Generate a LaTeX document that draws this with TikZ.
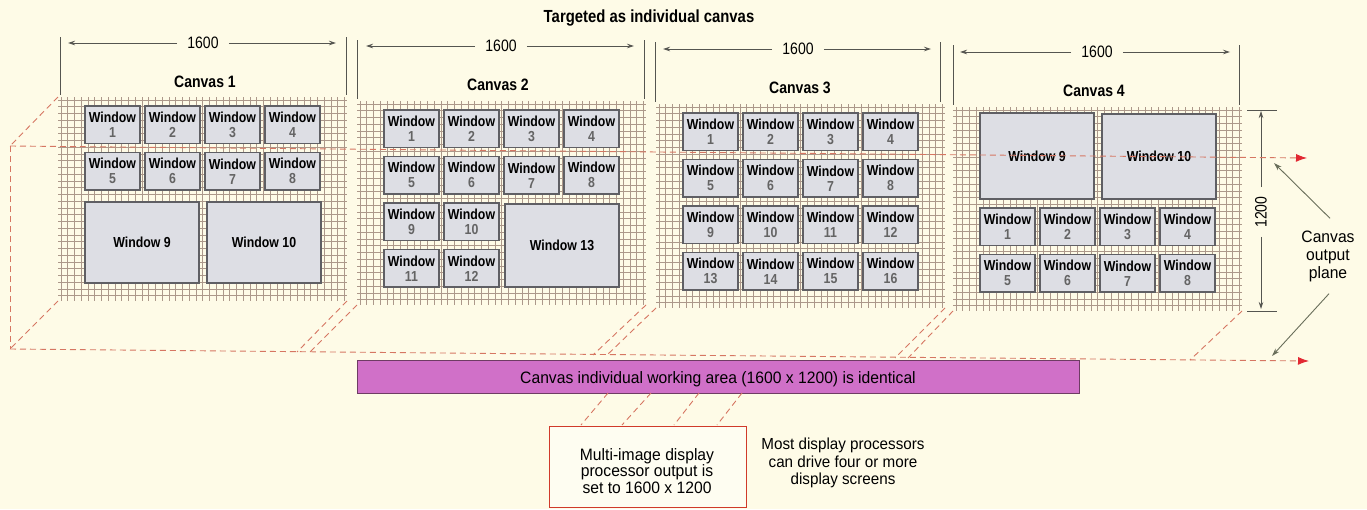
\documentclass[tikz,border=0pt]{standalone}
\usepackage{fontspec}
\setmainfont{Liberation Sans}[FakeStretch=0.95]
\newfontfamily\condf{Liberation Sans}[FakeStretch=0.85]
\usetikzlibrary{arrows.meta}
\definecolor{bg}{RGB}{254,251,231}
\definecolor{gridc}{RGB}{172,152,138}
\definecolor{winfill}{RGB}{221,222,228}
\definecolor{winedge}{RGB}{95,95,100}
\definecolor{numgray}{RGB}{100,100,100}
\definecolor{dimc}{RGB}{85,85,80}
\definecolor{dashc}{RGB}{214,118,98}
\definecolor{tipred}{RGB}{226,40,50}
\definecolor{barfill}{RGB}{208,112,200}
\definecolor{baredge}{RGB}{110,60,100}
\definecolor{boxred}{RGB}{208,58,42}
\definecolor{pointc}{RGB}{105,110,90}
\tikzset{
  winbox/.style={draw=winedge, fill=winfill, line width=1.3pt, inner sep=0pt, outer sep=0pt,
    anchor=north west, align=center, font=\condf\bfseries\fontsize{14.5}{15}\selectfont},
  canvasbox/.style={inner sep=0pt, outer sep=0pt, anchor=north west, minimum width=289pt, minimum height=204pt},
  gridline/.style={draw=gridc, line width=0.65pt},
  dimline/.style={draw=dimc, line width=0.8pt},
  dimarrow/.style={draw=dimc, line width=0.8pt, -{Stealth[length=7pt,width=4.5pt]}},
  dimtext/.style={font=\condf\fontsize{16.5}{17}\selectfont, inner xsep=10pt, inner ysep=2pt},
  canvlabel/.style={font=\condf\bfseries\fontsize{16.5}{18}\selectfont, inner sep=1pt},
  reddash/.style={draw=dashc, line width=0.9pt, dash pattern=on 6pt off 4pt},
  redtip/.style={-{Latex[length=11pt,width=8pt,color=tipred]}},
  pointarrow/.style={draw=pointc, line width=0.9pt, -{Stealth[length=8pt,width=5pt]}},
  plaintext/.style={font=\fontsize{16}{17.5}\selectfont, align=center, inner sep=1pt},
}
\newcommand\smallwin[4]{\node[winbox, minimum width=55pt, minimum height=37.5pt] (#1) at (#2,#3) {Window\\\textcolor{numgray}{#4}};}
\newcommand\bigwin[6]{\node[winbox, minimum width=#4pt, minimum height=#5pt] (#1) at (#2,#3) {Window #6};}
\newcommand\meshgrid{%
  \foreach \i in {0,...,42} {\draw[gridline] ({3+\i*6.75},0) -- ({3+\i*6.75},204);}
  \foreach \j in {0,...,29} {\draw[gridline] (0,{3+\j*6.75}) -- (289,{3+\j*6.75});}}
\begin{document}
\begin{tikzpicture}[x=1pt,y=-1pt]
\useasboundingbox (0,0) rectangle (1367,509);
\fill[bg] (0,0) rectangle (1367,509);

% title
\node[font=\condf\bfseries\fontsize{17.5}{19}\selectfont] (title) at (649,18) {Targeted as individual canvas};

% ---------- Canvas 1 ----------
\begin{scope}[shift={(58,97)}]
  \node[canvasbox] (c1) at (0,0) {};
  \meshgrid
  \smallwin{c1w1}{27}{9}{1}
  \smallwin{c1w2}{87}{9}{2}
  \smallwin{c1w3}{147}{9}{3}
  \smallwin{c1w4}{207}{9}{4}
  \smallwin{c1w5}{27}{55.5}{5}
  \smallwin{c1w6}{87}{55.5}{6}
  \smallwin{c1w7}{147}{55.5}{7}
  \smallwin{c1w8}{207}{55.5}{8}
  \bigwin{c1w9}{27}{105}{114}{81}{9}
  \bigwin{c1w10}{149}{105}{114}{81}{10}
\end{scope}

% ---------- Canvas 2 ----------
\begin{scope}[shift={(357,101)}]
  \node[canvasbox] (c2) at (0,0) {};
  \meshgrid
  \smallwin{c2w1}{27}{9}{1}
  \smallwin{c2w2}{87}{9}{2}
  \smallwin{c2w3}{147}{9}{3}
  \smallwin{c2w4}{207}{9}{4}
  \smallwin{c2w5}{27}{55.5}{5}
  \smallwin{c2w6}{87}{55.5}{6}
  \smallwin{c2w7}{147}{55.5}{7}
  \smallwin{c2w8}{207}{55.5}{8}
  \smallwin{c2w9}{27}{102}{9}
  \smallwin{c2w10}{87}{102}{10}
  \smallwin{c2w11}{27}{148.5}{11}
  \smallwin{c2w12}{87}{148.5}{12}
  \bigwin{c2w13}{148}{103}{114}{83}{13}
\end{scope}

% ---------- Canvas 3 ----------
\begin{scope}[shift={(656,104)}]
  \node[canvasbox] (c3) at (0,0) {};
  \meshgrid
  \smallwin{c3w1}{27}{9}{1}
  \smallwin{c3w2}{87}{9}{2}
  \smallwin{c3w3}{147}{9}{3}
  \smallwin{c3w4}{207}{9}{4}
  \smallwin{c3w5}{27}{55.5}{5}
  \smallwin{c3w6}{87}{55.5}{6}
  \smallwin{c3w7}{147}{55.5}{7}
  \smallwin{c3w8}{207}{55.5}{8}
  \smallwin{c3w9}{27}{102}{9}
  \smallwin{c3w10}{87}{102}{10}
  \smallwin{c3w11}{147}{102}{11}
  \smallwin{c3w12}{207}{102}{12}
  \smallwin{c3w13}{27}{148.5}{13}
  \smallwin{c3w14}{87}{148.5}{14}
  \smallwin{c3w15}{147}{148.5}{15}
  \smallwin{c3w16}{207}{148.5}{16}
\end{scope}

% ---------- Canvas 4 ----------
\begin{scope}[shift={(953,107)}]
  \node[canvasbox] (c4) at (0,0) {};
  \meshgrid
  \bigwin{c4w9}{27}{6}{114}{86}{9}
  \bigwin{c4w10}{149}{7}{114}{85}{10}
  \smallwin{c4w1}{27}{101}{1}
  \smallwin{c4w2}{87}{101}{2}
  \smallwin{c4w3}{147}{101}{3}
  \smallwin{c4w4}{207}{101}{4}
  \smallwin{c4w5}{27}{147.5}{5}
  \smallwin{c4w6}{87}{147.5}{6}
  \smallwin{c4w7}{147}{147.5}{7}
  \smallwin{c4w8}{207}{147.5}{8}
\end{scope}

% ---------- width dimensions ----------
\draw[dimline] (60,37) -- (60,95);
\draw[dimline] (346,37) -- (346,95);
\node[dimtext] (d1) at (203,43) {1600};
\coordinate (d1l) at (68,43); \coordinate (d1r) at (336,43);
\draw[dimarrow] (d1) -- (d1l); \draw[dimarrow] (d1) -- (d1r);
\node[canvlabel] (lab1) at (205,82) {Canvas 1};

\draw[dimline] (357,40) -- (357,99);
\draw[dimline] (644,40) -- (644,99);
\node[dimtext] (d2) at (501,46) {1600};
\coordinate (d2l) at (366,46); \coordinate (d2r) at (634,46);
\draw[dimarrow] (d2) -- (d2l); \draw[dimarrow] (d2) -- (d2r);
\node[canvlabel] (lab2) at (498,85) {Canvas 2};

\draw[dimline] (655,42) -- (655,102);
\draw[dimline] (940,42) -- (940,102);
\node[dimtext] (d3) at (798,49) {1600};
\coordinate (d3l) at (663,49); \coordinate (d3r) at (931,49);
\draw[dimarrow] (d3) -- (d3l); \draw[dimarrow] (d3) -- (d3r);
\node[canvlabel] (lab3) at (800,88) {Canvas 3};

\draw[dimline] (953,45) -- (953,105);
\draw[dimline] (1239,45) -- (1239,105);
\node[dimtext] (d4) at (1097,52) {1600};
\coordinate (d4l) at (960,52); \coordinate (d4r) at (1230,52);
\draw[dimarrow] (d4) -- (d4l); \draw[dimarrow] (d4) -- (d4r);
\node[canvlabel] (lab4) at (1094,91) {Canvas 4};

% ---------- height dimension ----------
\draw[dimline] (1247,110) -- (1277,110);
\draw[dimline] (1247,311) -- (1277,311);
\node[dimtext, rotate=90, inner xsep=9pt] (h1) at (1261,212) {1200};
\coordinate (h1t) at (1261,111); \coordinate (h1b) at (1261,309);
\draw[dimarrow] (h1) -- (h1t); \draw[dimarrow] (h1) -- (h1b);

% ---------- red dashed output plane ----------
\coordinate (pA) at (10,146);
\coordinate (pB) at (1307,158);
\coordinate (pC) at (10,349);
\coordinate (pD) at (1309,361);
\draw[reddash, redtip] (pA) -- (pB);
\draw[reddash] (pA) -- (pC);
\draw[reddash, redtip] (pC) -- (pD);
\draw[reddash] (c1.north west) -- (pA);
\draw[reddash] (c1.south west) -- (pC);
\coordinate (q1) at (297,352); \coordinate (q2) at (310,352);
\coordinate (q3) at (593,355); \coordinate (q4) at (607,355);
\coordinate (q5) at (895,358); \coordinate (q6) at (908,358);
\coordinate (q7) at (1190,360);
\draw[reddash] (c1.south east) -- (q1);
\draw[reddash] (c2.south west) -- (q2);
\draw[reddash] (c2.south east) -- (q3);
\draw[reddash] (c3.south west) -- (q4);
\draw[reddash] (c3.south east) -- (q5);
\draw[reddash] (c4.south west) -- (q6);
\draw[reddash] (c4.south east) -- (q7);

% ---------- canvas output plane label ----------
\node[plaintext, font=\fontsize{16.5}{18}\selectfont, inner xsep=2pt, inner ysep=12pt] (cop) at (1328,256) {Canvas\\output\\plane};
\coordinate (cpt1) at (1274,163); \coordinate (cpt2) at (1272,356);
\draw[pointarrow] ([xshift=2pt]cop.north) -- (cpt1);
\draw[pointarrow] ([xshift=1pt]cop.south) -- (cpt2);

% ---------- working area bar ----------
\node[draw=baredge, fill=barfill, line width=1.2pt, anchor=north west, minimum width=722pt, minimum height=33pt, inner sep=0pt] (bar) at (357,360) {};
\node[plaintext, font=\fontsize{16.5}{18}\selectfont] (bartxt) at (718,379) {Canvas individual working area (1600 x 1200) is identical};

% ---------- processor output box ----------
\node[draw=boxred, fill=bg!60!white, line width=1.4pt, anchor=north west, minimum width=197pt, minimum height=81pt, inner sep=0pt] (mib) at (549,426) {};
\node[plaintext, font=\fontsize{16.5}{16.5}\selectfont] (mibtxt) at (647,471) {Multi-image display\\processor output is\\set to 1600 x 1200};
\coordinate (u1) at (608,393); \coordinate (v1) at (581,425);
\coordinate (u2) at (651,393); \coordinate (v2) at (622,425);
\coordinate (u3) at (699,393); \coordinate (v3) at (674,425);
\coordinate (u4) at (742,393); \coordinate (v4) at (717,425);
\draw[reddash] (u1) -- (v1);
\draw[reddash] (u2) -- (v2);
\draw[reddash] (u3) -- (v3);
\draw[reddash] (u4) -- (v4);

\node[plaintext, font=\fontsize{16}{17.5}\selectfont] (most) at (843,463) {Most display processors\\can drive four or more\\display screens};
\end{tikzpicture}
\end{document}
